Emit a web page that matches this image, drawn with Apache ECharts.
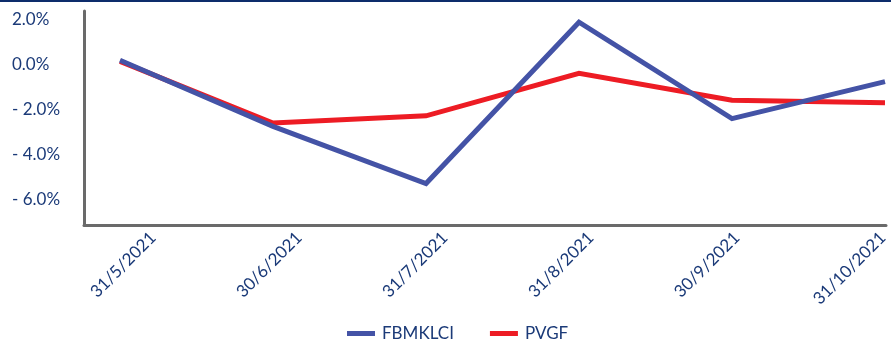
<!DOCTYPE html>
<html>
<head>
<meta charset="utf-8">
<script src="https://cdn.jsdelivr.net/npm/echarts@6/dist/echarts.min.js"></script>
<style>
html,body{margin:0;padding:0;background:#fff;}
#chart{width:891px;height:340px;}
</style>
</head>
<body>
<div id="chart"></div>
<script>
const categories = ['31/5/2021', '30/6/2021', '31/7/2021', '31/8/2021', '30/9/2021', '31/10/2021'];
const fbmklci = [0.2, -2.75, -5.3, 1.9, -2.4, -0.75];
const pvgf = [0.15, -2.6, -2.28, -0.38, -1.58, -1.7];
const yTicks = [2, 0, -2, -4, -6];
const yMin = -7.15;
const yMax = 2.4;

const navy = '#1b3a78';
const font = 'Lato';

function fmtPct(v) {
  const r = Math.round(v * 10) / 10;
  if (!yTicks.some(t => Math.abs(t - r) < 1e-6)) return '';
  return r < 0 ? '- ' + Math.abs(r).toFixed(1) + '%' : r.toFixed(1) + '%';
}

const chart = echarts.init(document.getElementById('chart'), null, {renderer: 'canvas'});
chart.setOption({
  animation: false,
  backgroundColor: '#fff',
  graphic: [{
    type: 'rect', left: 0, top: 0, shape: {x: 0, y: 0, width: 891, height: 2},
    style: {fill: '#0d2c6b'}, silent: true
  }],
  grid: [
    {left: 84, right: 5, top: 11, bottom: 115},
    {left: 120, right: 6, top: 11, bottom: 115},
    {left: 153, right: 2, top: 11, bottom: 115}
  ],
  xAxis: [
    {gridIndex: 0, type: 'category', data: categories, boundaryGap: false,
     axisLine: {show: true, onZero: false, lineStyle: {color: '#6a6a6a', width: 3}},
     axisTick: {show: false}, axisLabel: {show: false}, splitLine: {show: false}},
    {gridIndex: 1, type: 'category', data: categories, boundaryGap: false, show: false},
    {gridIndex: 2, type: 'category', data: categories, boundaryGap: false,
     axisLine: {show: false, onZero: false}, axisTick: {show: false}, splitLine: {show: false},
     axisLabel: {show: true, rotate: 45, interval: 0, margin: 10,
       color: navy, fontFamily: font, fontSize: 17}}
  ],
  yAxis: [
    {gridIndex: 0, type: 'value', min: yMin, max: yMax, splitNumber: 5,
     axisLine: {show: true, onZero: false, lineStyle: {color: '#6a6a6a', width: 3}},
     axisTick: {show: false}, splitLine: {show: false},
     axisLabel: {show: true, showMinLabel: false, showMaxLabel: false,
       align: 'left', margin: 72, color: navy, fontFamily: font, fontSize: 17,
       formatter: fmtPct}},
    {gridIndex: 1, type: 'value', min: yMin, max: yMax, show: false},
    {gridIndex: 2, type: 'value', min: yMin, max: yMax, show: false}
  ],
  legend: {
    data: ['FBMKLCI', 'PVGF'],
    left: 342, top: 320,
    icon: 'rect', itemWidth: 28, itemHeight: 5, itemGap: 36,
    textStyle: {color: navy, fontFamily: font, fontSize: 17, padding: [0, 0, 0, 2]}
  },
  series: [
    {name: 'FBMKLCI', type: 'line', xAxisIndex: 1, yAxisIndex: 1, data: fbmklci,
     symbol: 'none', z: 3, color: '#4453a6',
     lineStyle: {color: '#4453a6', width: 5, join: 'miter'}},
    {name: 'PVGF', type: 'line', xAxisIndex: 1, yAxisIndex: 1, data: pvgf,
     symbol: 'none', z: 2, color: '#ed1c24',
     lineStyle: {color: '#ed1c24', width: 5, join: 'miter'}}
  ]
});
</script>
</body>
</html>
